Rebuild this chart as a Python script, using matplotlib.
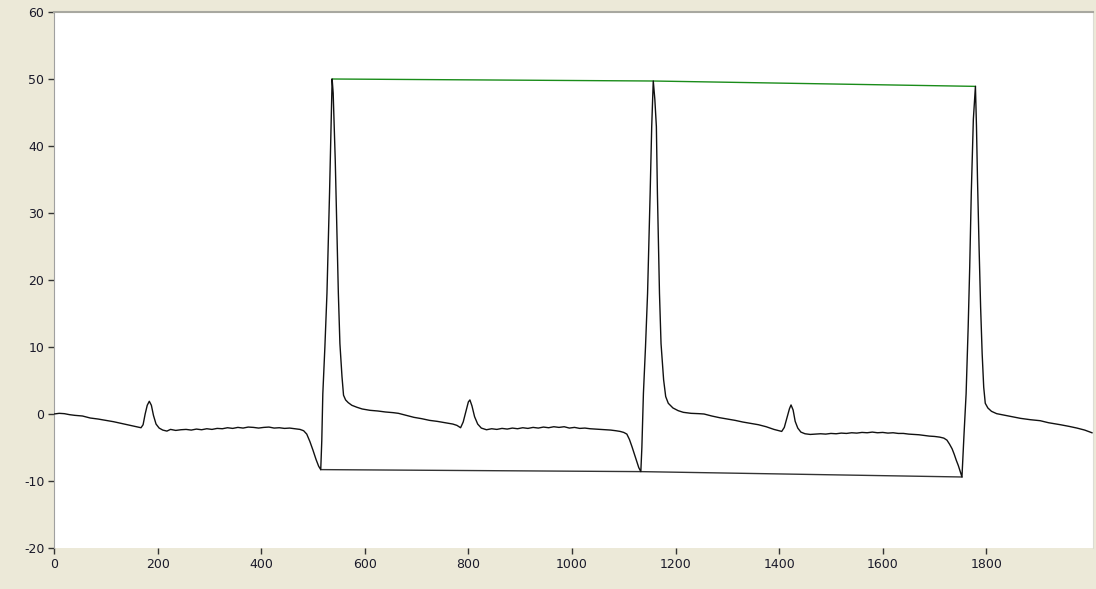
import matplotlib
matplotlib.use("Agg")
import matplotlib.pyplot as plt

plt.rcParams["axes.unicode_minus"] = False

# Recorded trace (sample index, amplitude)
trace_x = [
    0, 10, 20, 30, 40, 55, 70, 85, 100, 115, 130, 145, 160, 168,
    172, 176, 180, 184, 188, 192, 197, 203, 210, 218,
    225, 235, 245, 255, 265, 275, 285, 295, 305, 315, 325, 335, 345, 355,
    365, 375, 385, 395, 405, 415, 425, 435, 445, 455, 465, 475,
    482, 488, 494, 500, 506, 511, 515,
    517, 519, 523, 527, 532, 535, 537,
    539, 543, 546, 549, 552, 556, 559, 563, 568, 575, 585, 595, 610, 625,
    640, 655, 665, 680, 695, 710, 725, 740, 755, 770, 778,
    785, 790, 795, 800, 803, 807, 812, 818, 825,
    835, 845, 855, 865, 875, 885, 895, 905, 915, 925, 935, 945, 955, 965,
    975, 985, 995, 1005, 1015, 1025, 1035, 1045, 1055, 1065, 1075, 1085,
    1093, 1100, 1106, 1111, 1116, 1121, 1125, 1129, 1133,
    1135, 1138, 1142, 1146, 1151, 1154, 1157,
    1160, 1163, 1165, 1169, 1172, 1177, 1181, 1186, 1195, 1205, 1215,
    1230, 1245, 1255, 1270, 1285, 1300, 1315, 1330, 1345, 1360, 1375,
    1390, 1405, 1410, 1415, 1420, 1423, 1427, 1431, 1436, 1442,
    1450, 1460, 1470, 1480, 1490, 1500, 1510, 1520, 1530, 1540, 1550,
    1560, 1570, 1580, 1590, 1600, 1610, 1620, 1630, 1640, 1650, 1660,
    1670, 1680, 1690, 1700, 1710, 1718, 1724, 1729, 1734, 1738, 1742,
    1746, 1750, 1753,
    1757, 1761, 1765, 1768, 1771, 1775, 1779,
    1781, 1783, 1786, 1789, 1792, 1795, 1798, 1803, 1810, 1820, 1833,
    1850, 1866, 1885, 1904, 1920, 1943, 1960, 1975, 1990, 2004,
]
trace_y = [
    0.0, 0.1, 0.05, -0.1, -0.2, -0.3, -0.6, -0.75, -0.95, -1.15, -1.4, -1.65, -1.9, -2.05,
    -1.6, 0.0, 1.3, 1.9, 1.3, -0.2, -1.5, -2.1, -2.4, -2.55,
    -2.3, -2.45, -2.35, -2.3, -2.4, -2.25, -2.35, -2.2, -2.3, -2.15, -2.2, -2.05, -2.15, -2.0,
    -2.1, -1.95, -2.0, -2.1, -2.0, -1.95, -2.1, -2.05, -2.15, -2.1, -2.2, -2.3,
    -2.5, -3.0, -4.1, -5.4, -6.8, -7.8, -8.3,
    -4.0, 3.0, 10.0, 18.0, 33.0, 43.0, 50.0,
    47.9, 37.9, 28.0, 18.0, 10.5, 5.6, 2.8, 2.1, 1.7, 1.3, 1.0, 0.75, 0.55, 0.45,
    0.3, 0.2, 0.1, -0.2, -0.5, -0.7, -0.95, -1.1, -1.3, -1.5, -1.7,
    -2.05, -1.2, 0.3, 1.8, 2.1, 1.2, -0.4, -1.5, -2.1,
    -2.35, -2.2, -2.3, -2.15, -2.25, -2.1, -2.2, -2.05, -2.15, -2.0, -2.1, -1.95, -2.05, -1.9,
    -2.0, -1.9, -2.1, -2.0, -2.15, -2.1, -2.2, -2.25, -2.3, -2.35, -2.4, -2.5,
    -2.6, -2.75, -3.0, -3.8, -4.9, -6.1, -7.1, -8.0, -8.6,
    -5.0, 3.1, 10.0, 18.0, 33.0, 42.9, 49.7,
    47.0, 42.9, 33.0, 18.0, 10.5, 5.1, 2.6, 1.6, 0.9, 0.5, 0.25,
    0.1, 0.05, 0.0, -0.3, -0.55, -0.75, -0.95, -1.2, -1.4, -1.6, -1.9,
    -2.3, -2.6, -2.0, -0.6, 0.8, 1.35, 0.6, -1.1, -2.1, -2.7,
    -2.95, -3.05, -3.0, -2.95, -3.0, -2.9, -2.95, -2.85, -2.9, -2.8, -2.85,
    -2.75, -2.8, -2.7, -2.8, -2.75, -2.85, -2.8, -2.9, -2.9, -3.0, -3.05,
    -3.1, -3.2, -3.3, -3.35, -3.45, -3.6, -3.9, -4.5, -5.2, -6.0, -6.9,
    -7.7, -8.7, -9.4,
    -3.0, 3.0, 13.0, 22.0, 33.0, 44.0, 48.9,
    43.0, 35.0, 25.0, 16.0, 9.0, 4.0, 1.6, 0.9, 0.4, 0.05, -0.15,
    -0.4, -0.65, -0.85, -1.0, -1.3, -1.6, -1.85, -2.1, -2.4, -2.8,
]

# Detected extrema joined by envelope lines
peak_x = [537, 1157, 1779]
peak_y = [50.0, 49.7, 48.9]
trough_x = [515, 1133, 1753]
trough_y = [-8.3, -8.6, -9.4]

x_ticks = [0, 200, 400, 600, 800, 1000, 1200, 1400, 1600, 1800]
y_ticks = [-20, -10, 0, 10, 20, 30, 40, 50, 60]

W, H = 1096, 589
fig = plt.figure(figsize=(W / 100, H / 100), dpi=100)
fig.patch.set_facecolor("#ECE9D8")

left, right, top, bottom = 54, 1093, 12, 548
ax = fig.add_axes([left / W, 1 - bottom / H, (right - left) / W, (bottom - top) / H])
ax.set_facecolor("#FFFFFF")

ax.plot(trace_x, trace_y, color="#111111", lw=1.0, zorder=3)
ax.plot(peak_x, peak_y, color="#1a8c1a", lw=1.0, zorder=2)
ax.plot(trough_x, trough_y, color="#333333", lw=1.0, zorder=2)

ax.set_xlim(0, 2006)
ax.set_ylim(-20, 60)
ax.set_xticks(x_ticks)
ax.set_yticks(y_ticks)

ax.tick_params(axis="both", direction="out", length=4, width=1, color="#333333",
               labelsize=9, labelcolor="#1a1a2a", pad=3)
for lbl in ax.get_xticklabels() + ax.get_yticklabels():
    lbl.set_family("DejaVu Sans")

ax.spines["left"].set_color("#a0a0a0")
ax.spines["top"].set_color("#a8a8a0")
ax.spines["top"].set_linewidth(1.5)
ax.spines["right"].set_color("#dcdcd4")
ax.spines["bottom"].set_visible(False)

fig.savefig("out.png", dpi=100, facecolor=fig.get_facecolor())
